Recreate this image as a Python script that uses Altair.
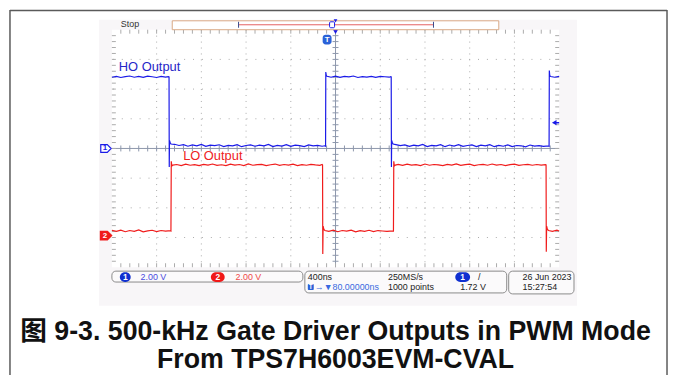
import altair as alt
import pandas as pd

# ---------------- data ----------------
VOLTS_PER_DIV = 2.0
CH1_OFFSET_DIV = 0.0
CH2_OFFSET_DIV = -2.93

# (time in ns relative to trigger, volts)
HO_SAMPLES = [
    (-2000, 4.80), (-1960, 4.86), (-1920, 4.78), (-1880, 4.84), (-1840, 4.88), (-1800, 4.80),
    (-1760, 4.85), (-1720, 4.79), (-1680, 4.87), (-1640, 4.83), (-1600, 4.78), (-1560, 4.86),
    (-1520, 4.81), (-1495, 4.84),
    (-1489, 4.82), (-1487, -1.25), (-1485, 0.55), (-1480, 0.42), (-1472, 0.30),
    (-1440, 0.28), (-1400, 0.20), (-1360, 0.26), (-1320, 0.15), (-1280, 0.24), (-1240, 0.18),
    (-1200, 0.27), (-1160, 0.14), (-1120, 0.22), (-1080, 0.19), (-1040, 0.25), (-1000, 0.13),
    (-960, 0.21), (-920, 0.17), (-880, 0.26), (-840, 0.12), (-800, 0.20), (-760, 0.24),
    (-720, 0.15), (-680, 0.22), (-640, 0.18), (-600, 0.27), (-560, 0.13), (-520, 0.21),
    (-480, 0.16), (-440, 0.25), (-400, 0.14), (-360, 0.22), (-320, 0.19), (-280, 0.12),
    (-240, 0.24), (-200, 0.17), (-160, 0.21), (-120, 0.15), (-96, 0.18),
    (-89, 0.15), (-87, 5.15), (-83, 4.92), (-76, 4.86),
    (-40, 4.80), (0, 4.87), (40, 4.79), (80, 4.85), (120, 4.82), (160, 4.88), (200, 4.78),
    (240, 4.84), (280, 4.81), (320, 4.86), (360, 4.79), (400, 4.85), (440, 4.83), (480, 4.80),
    (494, 4.84),
    (498, 4.82), (500, -1.25), (502, 0.55), (507, 0.42), (515, 0.30),
    (540, 0.26), (580, 0.19), (620, 0.24), (660, 0.14), (700, 0.22), (740, 0.17), (780, 0.27),
    (820, 0.13), (860, 0.21), (900, 0.18), (940, 0.25), (980, 0.12), (1020, 0.23), (1060, 0.16),
    (1100, 0.26), (1140, 0.14), (1180, 0.20), (1220, 0.24), (1260, 0.13), (1300, 0.22),
    (1340, 0.17), (1380, 0.26), (1420, 0.12), (1460, 0.21), (1500, 0.15), (1540, 0.24),
    (1580, 0.13), (1620, 0.20), (1660, 0.18), (1700, 0.11), (1740, 0.23), (1780, 0.16),
    (1820, 0.19), (1860, 0.14), (1904, 0.17),
    (1910, 0.15), (1912, 5.25), (1916, 4.90), (1924, 4.85),
    (1960, 4.80), (2000, 4.86),
]

LO_SAMPLES = [
    (-2000, 0.34), (-1960, 0.27), (-1920, 0.36), (-1880, 0.25), (-1840, 0.33), (-1800, 0.28),
    (-1760, 0.37), (-1720, 0.24), (-1680, 0.31), (-1640, 0.35), (-1600, 0.26), (-1560, 0.33),
    (-1520, 0.29), (-1476, 0.32),
    (-1472, 0.30), (-1469, 5.00), (-1464, 4.68), (-1455, 4.74),
    (-1420, 4.78), (-1380, 4.71), (-1340, 4.80), (-1300, 4.73), (-1260, 4.77), (-1220, 4.70),
    (-1180, 4.79), (-1140, 4.74), (-1100, 4.81), (-1060, 4.72), (-1020, 4.76), (-980, 4.70),
    (-940, 4.80), (-900, 4.74), (-860, 4.78), (-820, 4.71), (-780, 4.82), (-740, 4.73),
    (-700, 4.77), (-660, 4.79), (-620, 4.70), (-580, 4.76), (-540, 4.81), (-500, 4.72),
    (-460, 4.78), (-420, 4.74), (-380, 4.80), (-340, 4.71), (-300, 4.77), (-260, 4.73),
    (-220, 4.79), (-180, 4.75), (-140, 4.72), (-120, 4.78),
    (-116, 4.75), (-114, -1.25), (-111, 0.62), (-104, 0.40), (-95, 0.33),
    (-60, 0.27), (-20, 0.35), (20, 0.25), (60, 0.33), (100, 0.29), (140, 0.36), (180, 0.24),
    (220, 0.32), (260, 0.28), (300, 0.35), (340, 0.26), (380, 0.33), (420, 0.30), (460, 0.27),
    (514, 0.31),
    (518, 0.30), (521, 5.00), (526, 4.68), (535, 4.74),
    (560, 4.79), (600, 4.72), (640, 4.80), (680, 4.74), (720, 4.77), (760, 4.71), (800, 4.81),
    (840, 4.73), (880, 4.78), (920, 4.75), (960, 4.70), (1000, 4.79), (1040, 4.74), (1080, 4.82),
    (1120, 4.72), (1160, 4.77), (1200, 4.80), (1240, 4.71), (1280, 4.76), (1320, 4.79),
    (1360, 4.73), (1400, 4.81), (1440, 4.74), (1480, 4.78), (1520, 4.70), (1560, 4.77),
    (1600, 4.80), (1640, 4.72), (1680, 4.76), (1720, 4.79), (1760, 4.73), (1800, 4.78),
    (1840, 4.74), (1878, 4.77),
    (1883, 4.75), (1885, -1.10), (1888, 0.62), (1895, 0.40), (1905, 0.33),
    (1940, 0.28), (1980, 0.35), (2000, 0.30),
]

# graticule
MAJOR_T = [-1600, -1200, -800, -400, 400, 800, 1200, 1600]
MAJOR_DIV = [-3, -2, -1, 1, 2, 3]
MINOR_T = [t for t in range(-1920, 2000, 80)]
MINOR_DIV = [round(i * 0.2, 2) for i in range(-19, 20)]

CAPTION_1 = "图 9-3. 500-kHz Gate Driver Outputs in PWM Mode"
CAPTION_2 = "From TPS7H6003EVM-CVAL"

# ---------------- frames ----------------
ho = pd.DataFrame(HO_SAMPLES, columns=["t", "v"])
ho["div"] = ho["v"] / VOLTS_PER_DIV + CH1_OFFSET_DIV
lo = pd.DataFrame(LO_SAMPLES, columns=["t", "v"])
lo["div"] = lo["v"] / VOLTS_PER_DIV + CH2_OFFSET_DIV

X = alt.X("t:Q", scale=alt.Scale(domain=[-2000, 2000], nice=False, zero=False), axis=None)
Y = alt.Y("div:Q", scale=alt.Scale(domain=[-4, 4], nice=False, zero=False), axis=None)

ONE = pd.DataFrame({"k": [0]})
SCOPE_FONT = "Liberation Sans"
CAP_FONT = "Liberation Sans, Noto Sans CJK SC"


def box(x, x2, y, y2, fill="none", stroke=None, sw=1, r=0):
    kw = dict(fill=fill, cornerRadius=r)
    if stroke:
        kw.update(stroke=stroke, strokeWidth=sw)
    return alt.Chart(ONE).mark_rect(**kw).encode(
        x=alt.value(x), x2=alt.value(x2), y=alt.value(y), y2=alt.value(y2))


def line(x, x2, y, y2, color, sw=1, dash=None):
    kw = dict(color=color, strokeWidth=sw)
    if dash:
        kw["strokeDash"] = dash
    return alt.Chart(ONE).mark_rule(**kw).encode(
        x=alt.value(x), x2=alt.value(x2), y=alt.value(y), y2=alt.value(y2))


def txt(s, x, y, color="#222222", size=9, align="left", weight="normal", font=SCOPE_FONT):
    return alt.Chart(ONE).mark_text(
        text=s, color=color, fontSize=size, align=align, baseline="middle",
        fontWeight=weight, font=font).encode(x=alt.value(x), y=alt.value(y))


def pill(x, x2, y, fill, label):
    return alt.layer(
        box(x, x2, y - 5, y + 5, fill=fill, r=5),
        txt(label, (x + x2) / 2, y, color="white", size=8.5, align="center", weight="bold"),
    )


GRID = "#ababab"
CENTER = "#8d97ab"
BLUE = "#1a1ae8"
RED = "#f01c1c"

layers = []
# screenshot background and white graticule area
layers.append(box(-13, 470, -10, 279, fill="#f8f6f8"))
layers.append(box(0, 452, 0, 240, fill="#ffffff"))

# dotted grid
layers.append(alt.Chart(pd.DataFrame({"t": MAJOR_T})).mark_rule(
    color=GRID, strokeWidth=1, strokeDash=[1, 5]).encode(x=X))
layers.append(alt.Chart(pd.DataFrame({"div": MAJOR_DIV})).mark_rule(
    color=GRID, strokeWidth=1, strokeDash=[1, 8]).encode(y=Y))
# center cross
layers.append(alt.Chart(pd.DataFrame({"t": [0]})).mark_rule(color=CENTER, strokeWidth=1).encode(x=X))
layers.append(alt.Chart(pd.DataFrame({"div": [0]})).mark_rule(color=CENTER, strokeWidth=1).encode(y=Y))
# minor ticks on center lines and borders
mt = pd.DataFrame({"t": MINOR_T})
md = pd.DataFrame({"div": MINOR_DIV})
layers.append(alt.Chart(mt).mark_rule(color=CENTER).encode(x=X, y=alt.value(117), y2=alt.value(123)))
layers.append(alt.Chart(md).mark_rule(color=CENTER).encode(y=Y, x=alt.value(223), x2=alt.value(229)))
layers.append(alt.Chart(mt).mark_rule(color=GRID).encode(x=X, y=alt.value(0), y2=alt.value(4)))
layers.append(alt.Chart(mt).mark_rule(color=GRID).encode(x=X, y=alt.value(236), y2=alt.value(240)))
layers.append(alt.Chart(md).mark_rule(color=GRID).encode(y=Y, x=alt.value(0), x2=alt.value(4)))
layers.append(alt.Chart(md).mark_rule(color=GRID).encode(y=Y, x=alt.value(448), x2=alt.value(452)))

# traces
layers.append(alt.Chart(lo).mark_line(color=RED, strokeWidth=1.2).encode(x=X, y=Y))
layers.append(alt.Chart(ho).mark_line(color=BLUE, strokeWidth=1.2).encode(x=X, y=Y))

# trace labels
layers.append(txt("HO Output", 7, 38, color="#2626c8", size=13))
layers.append(txt("LO Output", 72, 128, color="#ee2222", size=13))

# channel ground markers
ARROW = "M -1 -0.75 L 0.25 -0.75 L 1 0 L 0.25 0.75 L -1 0.75 Z"
layers.append(alt.Chart(ONE).mark_point(shape=ARROW, size=110, filled=True, fill="white",
                                        stroke=BLUE, strokeWidth=1.2, opacity=1)
              .encode(x=alt.value(-6), y=alt.value(120)))
layers.append(txt("1", -7, 120, color=BLUE, size=8, align="center", weight="bold"))
layers.append(alt.Chart(ONE).mark_point(shape=ARROW, size=110, filled=True, fill=RED,
                                        stroke=RED, opacity=1)
              .encode(x=alt.value(-6), y=alt.value(208)))
layers.append(txt("2", -7, 208, color="white", size=8, align="center", weight="bold"))

# trigger level arrow (right)
layers.append(alt.Chart(ONE).mark_point(shape="triangle-left", size=28, filled=True, color=BLUE, opacity=1)
              .encode(x=alt.value(447), y=alt.value(94)))
layers.append(line(447, 452, 94, 94, BLUE, sw=1.5))

# trigger position markers
layers.append(alt.Chart(ONE).mark_point(shape="triangle-down", size=30, filled=True, color=BLUE, opacity=1)
              .encode(x=alt.value(226), y=alt.value(2)))
layers.append(box(213, 222, 5, 15, fill="#2a62d8", r=3))
layers.append(txt("T", 217.5, 10, color="white", size=8, align="center", weight="bold"))

# top status bar
layers.append(txt("Stop", 9, -6, color="#333333", size=9))
layers.append(box(61, 391, -9, 0, fill="#ffffff", stroke="#d9a884", sw=1))
layers.append(line(128, 325, -5, -5, "#e46060", sw=1))
layers.append(line(128, 128, -8, -2, "#3a4a8a", sw=1))
layers.append(line(325, 325, -8, -2, "#3a4a8a", sw=1))
layers.append(box(220, 225, -8, -2, fill="#ffffff", stroke=BLUE, sw=1, r=1))
layers.append(alt.Chart(ONE).mark_point(shape="triangle-down", size=14, filled=True, color=BLUE, opacity=1)
              .encode(x=alt.value(226), y=alt.value(-9)))

# bottom status boxes
layers.append(box(0, 193, 244, 255, fill="#fbfafb", stroke="#8a8a8a", sw=1, r=4))
layers.append(box(195, 399, 244, 266, fill="#fbfafb", stroke="#8a8a8a", sw=1, r=4))
layers.append(box(401, 467, 244, 267, fill="#fbfafb", stroke="#8a8a8a", sw=1, r=4))
layers.append(pill(8, 19, 250, "#1030d0", "1"))
layers.append(txt("2.00 V", 29, 250, color="#4a4ae0"))
layers.append(pill(100, 114, 250, "#f01818", "2"))
layers.append(txt("2.00 V", 125, 250, color="#f04848"))
layers.append(txt("400ns", 198, 250))
layers.append(box(198, 204, 257, 263, fill="#2a62d8", r=1))
layers.append(txt("T", 201, 260, color="white", size=6.5, align="center", weight="bold"))
layers.append(txt("→▼80.00000ns", 205, 260, color="#3a6ae0"))
layers.append(txt("250MS/s", 279, 250))
layers.append(txt("1000 points", 279, 260))
layers.append(pill(347, 362, 250, "#1030d0", "1"))
layers.append(txt("/", 370, 250))
layers.append(txt("1.72 V", 352, 260))
layers.append(txt("26 Jun  2023", 415, 250))
layers.append(txt("15:27:54", 415, 260))

# figure frame lines
layers.append(line(-103, -103, -20, 350, "#5a5a5a", sw=1.5))
layers.append(line(-103, 561, -19.5, -19.5, "#5a5a5a", sw=1.5))
layers.append(line(561, 561, -20, 350, "#5a5a5a", sw=1.5))

# caption
layers.append(txt(CAPTION_1, 226, 306, color="#111111", size=27, align="center", weight="bold", font=CAP_FONT))
layers.append(txt(CAPTION_2, 226, 334, color="#111111", size=27, align="center", weight="bold", font=CAP_FONT))

chart = alt.layer(*layers).properties(
    width=452, height=240,
    padding={"left": 105, "top": 20, "right": 110, "bottom": 107},
    autosize=alt.AutoSizeParams(type="none"),
    background="#ffffff",
).configure_view(stroke="#d9a27c", strokeWidth=1.5)

chart.save("out.html", embed_options={"renderer": "svg", "actions": False})
